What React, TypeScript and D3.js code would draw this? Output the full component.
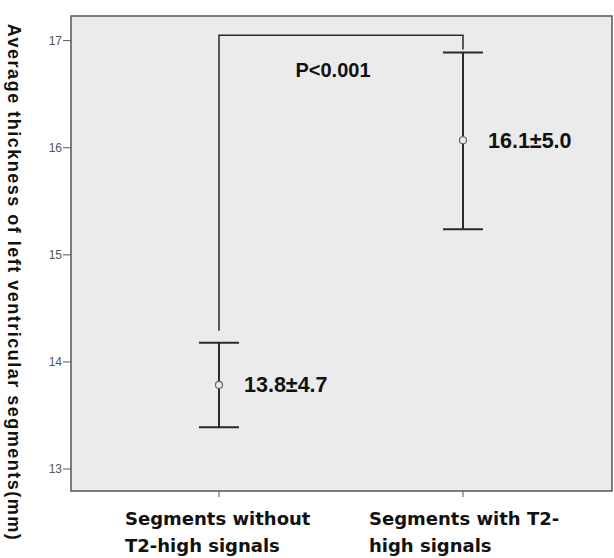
import React from "react";
import * as d3 from "d3";

const categories = ["Segments without T2-high signals", "Segments with T2-high signals"];
const categoryLines = [["Segments without", "T2-high signals"], ["Segments with T2-", "high signals"]];
const means = [13.785, 16.07];
const lowers = [13.39, 15.24];
const uppers = [14.18, 16.89];
const valueLabels = ["13.8±4.7", "16.1±5.0"];
const yTicks = [13, 14, 15, 16, 17];
const pLabel = "P<0.001";
const yTitle = "Average  thickness of left ventricular segments(mm)";

export default function App() {
  const W = 614, H = 558;
  const left = 71, right = 612, top = 16, bottom = 491;
  const y = d3.scaleLinear().domain([12.795, 17.23]).range([bottom, top]);
  const x = d3.scalePoint<string>().domain(categories).range([219, 463]);
  const capHalf = 20;
  const bracketY = y(17.05);
  const dark = "#2a2a2a";
  return (
    <svg width={W} height={H} style={{ position: "absolute", left: 0, top: 0, background: "#fff" }}>
      <rect x={left} y={top} width={right - left} height={bottom - top} fill="#ebebeb" stroke="#555" strokeWidth={1.5} />
      {yTicks.map((t) => (
        <g key={t}>
          <line x1={left - 8} x2={left} y1={y(t)} y2={y(t)} stroke="#555" strokeWidth={1} />
          <text x={left - 9} y={y(t)} dy="0.35em" textAnchor="end" fontFamily="Liberation Sans, Arial" fontSize={12} fill="#555">{t}</text>
        </g>
      ))}
      {categories.map((c, i) => (
        <g key={c}>
          <line x1={x(c)} x2={x(c)} y1={bottom} y2={bottom + 6} stroke="#555" strokeWidth={1} />
          {categoryLines[i].map((ln, j) => (
            <text key={j} x={(x(c) as number) - 94} y={525 + j * 27} textAnchor="start" fontFamily="DejaVu Sans" fontWeight="bold" fontSize={18} fill="#111">{ln}</text>
          ))}
        </g>
      ))}
      <path d={`M${x(categories[0])},${y(uppers[0]) - 12} V${bracketY} H${x(categories[1])} V${y(uppers[1]) - 3}`} fill="none" stroke={dark} strokeWidth={1.5} />
      <text x={333} y={77} textAnchor="middle" fontFamily="Liberation Sans, Arial" fontWeight="bold" fontSize={20} fill="#111">{pLabel}</text>
      {categories.map((c, i) => {
        const cx = x(c) as number;
        return (
          <g key={c + "e"}>
            <line x1={cx} x2={cx} y1={y(uppers[i])} y2={y(lowers[i])} stroke={dark} strokeWidth={2} />
            <line x1={cx - capHalf} x2={cx + capHalf} y1={y(uppers[i])} y2={y(uppers[i])} stroke={dark} strokeWidth={2} />
            <line x1={cx - capHalf} x2={cx + capHalf} y1={y(lowers[i])} y2={y(lowers[i])} stroke={dark} strokeWidth={2} />
            <circle cx={cx} cy={y(means[i])} r={3.5} fill="#ebebeb" stroke="#666" strokeWidth={1.2} />
            <text x={cx + 25} y={y(means[i])} dy="0.35em" fontFamily="Liberation Sans, Arial" fontWeight="bold" fontSize={21.5} fill="#111">{valueLabels[i]}</text>
          </g>
        );
      })}
      <text transform={`translate(14,${(20 + 545) / 2}) rotate(90)`} textAnchor="middle" dy="0.35em" fontFamily="Liberation Sans, Arial" fontWeight="bold" fontSize={18} letterSpacing={1.5} fill="#111">{yTitle}</text>
    </svg>
  );
}
